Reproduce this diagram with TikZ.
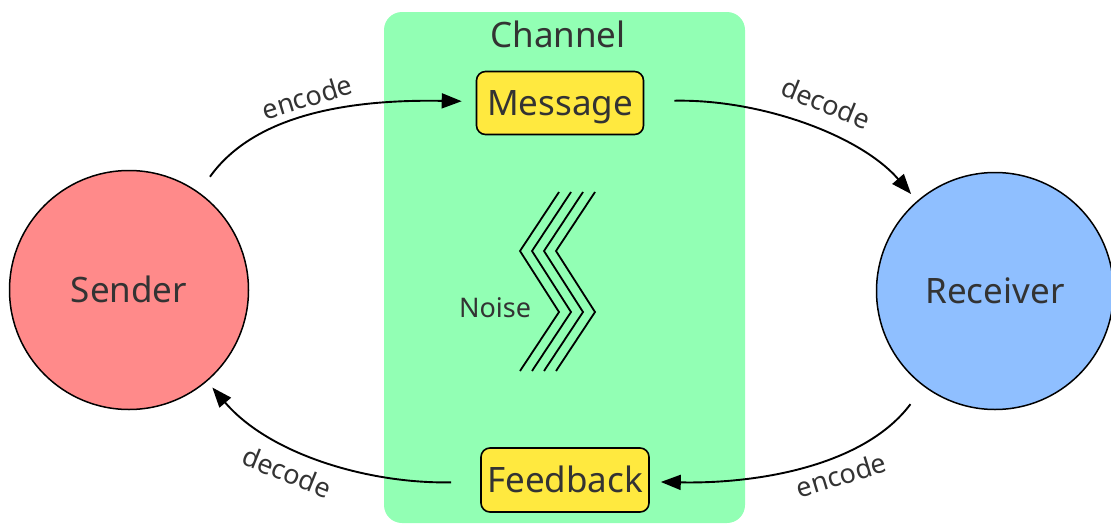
\documentclass[tikz,border=0pt]{standalone}
\usepackage{fontspec}
\setmainfont{Noto Sans}
\usetikzlibrary{arrows.meta}

\definecolor{chan}{RGB}{146,255,180}
\definecolor{sendfill}{RGB}{255,138,138}
\definecolor{recvfill}{RGB}{143,191,255}
\definecolor{msgfill}{RGB}{255,233,63}
\definecolor{ink}{RGB}{51,51,51}

\tikzset{
  party/.style={circle, draw=black, line width=1.5pt, fill=#1, minimum size=239pt,
    inner sep=0pt, text=ink, font=\fontsize{35}{40}\selectfont,
    text height=25pt, text depth=0pt},
  msgbox/.style={rounded corners=9pt, draw=black, line width=1.6pt, fill=msgfill,
    minimum width=167pt, minimum height=63pt, inner sep=0pt, text=ink,
    font=\fontsize{35}{40}\selectfont, text height=25pt, text depth=0pt},
  conn/.style={draw=black, line width=1.9pt, -{Triangle[length=20pt,width=15pt]}},
  lbl/.style={text=ink, font=\fontsize{27}{30}\selectfont, inner sep=0pt},
  noisewave/.style={draw=black, line width=1.8pt},
}

\begin{document}
\begin{tikzpicture}[x=1pt, y=-1pt]
  \useasboundingbox (0,0) rectangle (1111,525);

  % channel band
  \node[fill=chan, rounded corners=18pt, minimum width=361pt, minimum height=511pt,
        inner sep=0pt] (channel) at (564.5,267.5) {};
  \node[text=ink, font=\fontsize{35}{40}\selectfont, anchor=base, inner sep=0pt]
        (chantitle) at (558,47) {Channel};

  % parties
  \node[party=sendfill] (sender) at (129,290) {Sender};
  \node[party=recvfill, minimum size=237pt] (receiver) at (995,291) {Receiver};

  % boxes in the channel
  \node[msgbox] (message) at (560,103) {Message};
  \node[msgbox, minimum width=168pt, minimum height=64pt] (feedback) at (565,480) {Feedback};

  % noise
  \foreach \k in {0,...,3}
    \draw[noisewave] (559+12*\k,192) -- (520+12*\k,251) -- (559+12*\k,312) -- (520+12*\k,371);
  \node[text=ink, font=\fontsize{27}{30}\selectfont, text height=20pt, text depth=0pt,
        inner sep=0pt] (noise) at (495,307) {Noise};

  % connectors
  \draw[conn, shorten <=19pt, shorten >=14pt]
    (sender) .. controls (252,118) and (340,99) .. (message);
  \draw[conn, shorten <=30pt, shorten >=9pt]
    (message) .. controls (760,99) and (860,135) .. (receiver);
  \draw[conn, shorten <=22pt, shorten >=11pt]
    (receiver) .. controls (865,465) and (760,484) .. (feedback);
  \draw[conn, shorten <=29pt, shorten >=8pt]
    (feedback) .. controls (370,484) and (270,455) .. (sender);

  % connector labels
  \node[lbl, rotate=17]  (enc1) at (307,97)  {encode};
  \node[lbl, rotate=-22] (dec1) at (826,103) {decode};
  \node[lbl, rotate=17]  (enc2) at (841,475) {encode};
  \node[lbl, rotate=-22] (dec2) at (287,472) {decode};
\end{tikzpicture}
\end{document}
